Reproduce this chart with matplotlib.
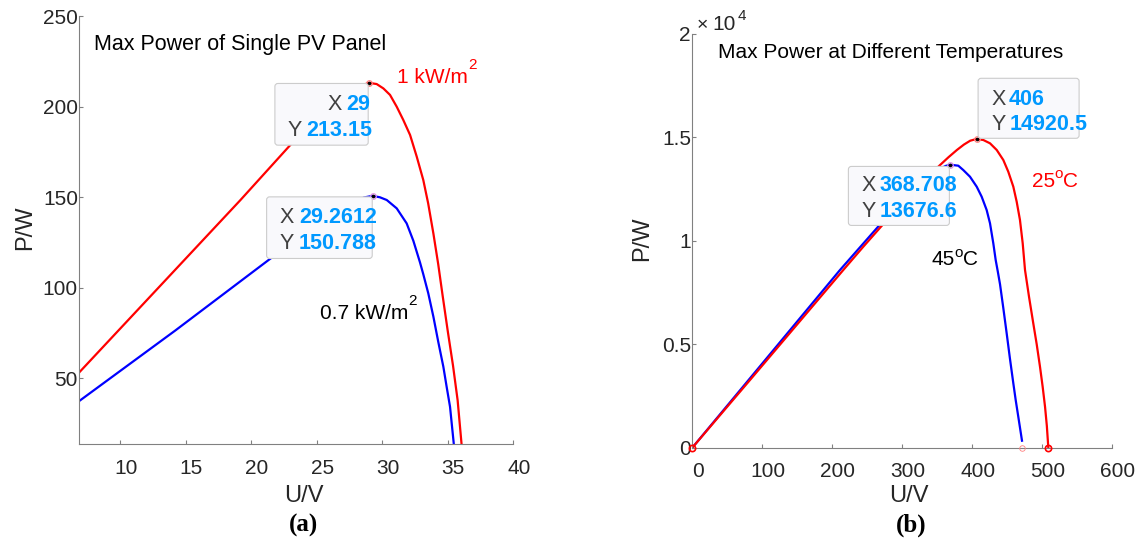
import numpy as np
import matplotlib
matplotlib.use('Agg')
import matplotlib.pyplot as plt
from matplotlib.patches import FancyBboxPatch
from matplotlib.transforms import IdentityTransform, ScaledTranslation
from matplotlib.ticker import FuncFormatter

# (a) 单块光伏板 P-U 曲线，读图所得
u_1kw = [6.87, 19.16, 22.97, 24.5, 26.0, 27.0, 28.0, 28.5, 29.0, 29.57, 30.08, 30.59, 31.1, 31.6, 32.12, 32.63,
         33.13, 33.5, 33.9, 34.27, 34.6, 35.0, 35.4, 35.75, 36.06]
p_1kw = [53.4, 148.4, 178.8, 190.3, 200.0, 205.8, 210.3, 212.0, 213.15, 212.5, 210.1, 206.5, 200.0, 192.7, 184.4, 172.4,
         159.5, 146.7, 130.0, 113.0, 96.0, 76.0, 57.0, 38.0, 13.0]
u_07kw = [6.87, 14.2, 21.43, 23.0, 24.5, 26.0, 27.0, 28.0, 28.6, 29.2612, 29.82, 30.34, 31.1, 31.86, 32.37, 32.88,
          33.13, 33.51, 33.9, 34.27, 34.66, 34.91, 35.17, 35.47]
p_07kw = [37.6, 76.5, 116.0, 124.2, 131.5, 138.8, 143.6, 147.6, 149.9, 150.788, 150.0, 148.5, 143.9, 135.6, 126.0, 114.0,
          107.5, 97.0, 84.1, 70.3, 56.5, 45.5, 34.4, 13.0]

# (b) 不同温度下的 P-U 曲线
u_25c = [0, 82.4, 215.7, 244.3, 300, 330, 354, 366, 378, 388, 397, 406, 415.7, 425.3, 434.9, 444.3, 451.4, 458.6,
         463.4, 468.1, 472, 475.3, 481, 487.1, 492, 496.7, 500.5, 503.9, 506.5, 508.6]
p_25c = [0, 3272, 8589, 9715, 11850, 12900, 13664, 14040, 14389, 14650, 14838, 14920.5, 14872, 14712, 14389, 13905,
         13340, 12615, 11890, 11005, 9880, 8589, 7300, 6013, 5000, 3915, 2950, 1982, 1050, 0]
u_45c = [0, 100, 211, 268, 300, 330, 340, 355, 362, 368.708, 380, 387.1, 396.7, 406.3, 413.4, 420.5, 425.3, 430,
         433.4, 436.5, 439.6, 444.3, 449.1, 453.8, 458.6, 462, 465.7, 471]
p_45c = [0, 4070, 8589, 10780, 12000, 12950, 13200, 13500, 13620, 13676.6, 13630, 13420, 13098, 12615, 12131, 11489,
         10845, 9880, 9072, 8500, 7900, 6750, 5529, 4300, 3113, 2300, 1498, 338]

# 最大功率点
mpp_a = [(29, 213.15), (29.2612, 150.788)]
mpp_b = [(406, 14920.5), (368.708, 13676.6)]

xticks_a = [10, 15, 20, 25, 30, 35, 40]
yticks_a = [50, 100, 150, 200, 250]
xticks_b = [0, 100, 200, 300, 400, 500, 600]
yticks_b = [0, 5000, 10000, 15000, 20000]

W, H = 1141, 539
plt.rcParams['font.family'] = ['Liberation Sans', 'DejaVu Sans']
fig = plt.figure(figsize=(W / 100, H / 100), dpi=100)

ax1 = fig.add_axes([79.3 / W, (H - 444) / H, 434 / W, 427.9 / H])
ax2 = fig.add_axes([692.3 / W, (H - 447.7) / H, 420 / W, 413.8 / H])

ax1.plot(u_1kw, p_1kw, color='#ff0000', lw=1.6)
ax1.plot(u_07kw, p_07kw, color='#0000ff', lw=1.6)
ax1.set_xlim(6.87, 40)
ax1.set_ylim(13.85, 250)
ax1.set_xticks(xticks_a)
ax1.set_yticks(yticks_a)

ax2.plot(u_45c, p_45c, color='#0000ff', lw=1.6)
ax2.plot(u_25c, p_25c, color='#ff0000', lw=1.6)
ax2.set_xlim(0, 600)
ax2.set_ylim(0, 20000)
ax2.set_xticks(xticks_b)
ax2.set_yticks(yticks_b)
ax2.yaxis.set_major_formatter(FuncFormatter(lambda v, p: '%g' % (v / 1e4)))

# 端点圆圈
ax2.plot([u_25c[0], u_25c[-1]], [0, 0], 'o', ms=4.5, mfc='none', mec='#ff0000', mew=1.2, clip_on=False, zorder=4)
ax2.plot([u_45c[-1]], [0], 'o', ms=4, mfc='none', mec='#ff8080', mew=0.6, clip_on=False, zorder=4)

for ax in (ax1, ax2):
    for s in ('top', 'right'):
        ax.spines[s].set_visible(False)
    for s in ('left', 'bottom'):
        ax.spines[s].set_color('#808080')
        ax.spines[s].set_linewidth(0.8)
    ax.tick_params(direction='in', length=3, width=0.8, color='#808080',
                   labelcolor='#262626', labelsize=15)
    ax.tick_params(axis='x', pad=10.5)
    ax.tick_params(axis='y', pad=1)
    for lab in ax.get_xticklabels():
        lab.set_transform(lab.get_transform() + ScaledTranslation(0.055, 0, fig.dpi_scale_trans))
    ax.set_xlabel('U/V', fontsize=17, color='#262626', va='baseline')
    ax.set_ylabel('P/W', fontsize=17, color='#262626')

ax1.xaxis.set_label_coords((303.7 - 79.3) / 434, (444 - 502) / 427.9)
ax1.yaxis.set_label_coords((36 - 79.3) / 434, (444 - 228) / 427.9)
ax2.xaxis.set_label_coords((909 - 692.3) / 420, (447.7 - 502) / 413.8)
ax2.yaxis.set_label_coords((653.5 - 692.3) / 420, (447.7 - 239) / 413.8)


def txt(x, y, s, **kw):
    # x, y 为像素坐标（y 向下）
    kw.setdefault('fontsize', 15)
    kw.setdefault('va', 'baseline')
    fig.text(x / W, 1 - y / H, s, **kw)


def datatip(ax, pt, box, rows, mec):
    ax.plot([pt[0]], [pt[1]], 'o', ms=4, mfc='none', mec=mec, mew=0.9, zorder=6)
    ax.plot([pt[0]], [pt[1]], 'o', ms=1.6, color='black', zorder=7)
    px, py = ax.transData.transform(pt)
    left = px + box[0]
    top = py - box[1]
    fig.add_artist(FancyBboxPatch((left, top - box[3]), box[2], box[3],
                                  boxstyle='round,pad=0,rounding_size=3',
                                  transform=IdentityTransform(), fc='#f9f9fc',
                                  ec='#cccccc', lw=0.8, zorder=5))
    vals = ['%g' % pt[0], '%g' % pt[1]]
    for (lx, vx, by), lab, val in zip(rows, ['X', 'Y'], vals):
        fig.text(left + lx, top - by, lab, transform=IdentityTransform(),
                 fontsize=15.5, color='#404040', va='baseline', zorder=6)
        fig.text(left + vx, top - by, val, transform=IdentityTransform(),
                 fontsize=15.5, color='#0099ff', fontweight='bold', va='baseline', zorder=6)


datatip(ax1, mpp_a[0], (-94.3, 0.6, 93.3, 61.7), [(53, 71, 26.7), (13, 31.7, 52.7)], '#ff8080')
datatip(ax1, mpp_a[1], (-106, 1, 105.6, 61.6), [(13.3, 32.3, 26.3), (13.3, 32.3, 52.3)], '#e090e0')
datatip(ax2, mpp_b[0], (1.6, -60.7, 101, 60), [(13.4, 30.7, 26.7), (13.7, 31.7, 51.7)], '#ff8080')
datatip(ax2, mpp_b[1], (-102, 1.7, 101, 59), [(12.7, 31, 24.7), (12.7, 31, 50.7)], '#e090e0')

# 标题与曲线标注
txt(93.6, 50, 'Max Power of Single PV Panel', fontsize=15.5)
txt(718.3, 58.5, 'Max Power at Different Temperatures')
txt(397, 83.3, '1 kW/m', color='#ff0000')
txt(468.5, 69, '2', color='#ff0000', fontsize=11)
txt(319.6, 319, '0.7 kW/m', color='black')
txt(408.5, 305, '2', color='black', fontsize=11)
txt(1031.7, 187.3, '25', color='#ff0000')
txt(1054.5, 178, 'o', color='#ff0000', fontsize=11)
txt(1063.5, 187.3, 'C', color='#ff0000')
txt(931.7, 265, '45', color='black')
txt(954.5, 257, 'o', color='black', fontsize=11)
txt(963.5, 265, 'C', color='black')
txt(696.7, 30, '\u00d7', color='#262626', fontsize=14)
txt(712.5, 30, '10', color='#262626')
txt(737.5, 20.5, '4', color='#262626', fontsize=11)

# 子图编号
txt(304, 532, '(a)', ha='center', fontsize=18, fontweight='bold', family='Liberation Serif')
txt(911, 532, '(b)', ha='center', fontsize=18, fontweight='bold', family='Liberation Serif')

fig.savefig('out.png', dpi=100)
